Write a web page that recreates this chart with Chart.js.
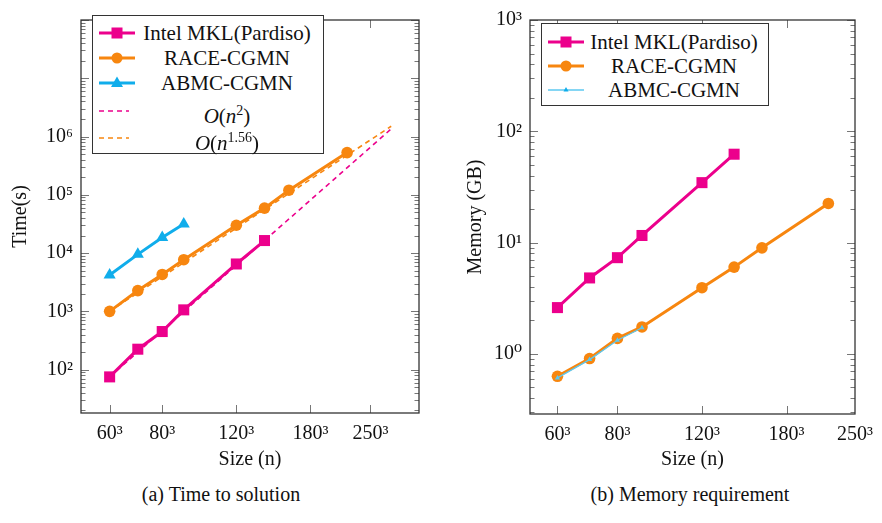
<!DOCTYPE html>
<html>
<head>
<meta charset="utf-8">
<script src="https://cdn.jsdelivr.net/npm/chart.js@4.4.1/dist/chart.umd.min.js"></script>
<style>
  body { margin: 0; background: #fff; font-family: "Liberation Serif", "DejaVu Serif", serif; color: #111; }
  #wrap { position: relative; width: 882px; height: 523px; }
  canvas { position: absolute; top: 0; }
  .legend { position: absolute; border: 1.3px solid #333; background: #fff; box-sizing: border-box; }
  .row { position: absolute; left: 0; right: 0; height: 24px; }
  .row svg { position: absolute; left: 6px; top: 4px; }
  .row span { position: absolute; left: 40px; right: 2px; text-align: center; font-family: "Liberation Serif", serif; font-size: 21px; line-height: 24px; white-space: nowrap; }
  .cap { position: absolute; top: 483px; font-family: "Liberation Serif", serif; font-size: 20px; text-align: center; width: 300px; }
</style>
</head>
<body>
<div id="wrap">
  <canvas id="timeChart" width="441" height="478" style="left:0"></canvas>
  <canvas id="memChart" width="441" height="478" style="left:441px"></canvas>

  <div class="legend" style="left:92px; top:15px; width:232px; height:139px">
    <div class="row" style="top:5px"><svg width="36" height="16"><line x1="0" y1="8" x2="36" y2="8" stroke="#EC008C" stroke-width="3"/><rect x="12.5" y="2.5" width="11" height="11" fill="#EC008C"/></svg><span>Intel MKL(Pardiso)</span></div>
    <div class="row" style="top:30px"><svg width="36" height="16"><line x1="0" y1="8" x2="36" y2="8" stroke="#F7860F" stroke-width="3"/><circle cx="18" cy="8" r="5.5" fill="#F7860F"/></svg><span>RACE-CGMN</span></div>
    <div class="row" style="top:55px"><svg width="36" height="16"><line x1="0" y1="8" x2="36" y2="8" stroke="#10ADEB" stroke-width="3"/><polygon points="18,1.5 24,12 12,12" fill="#10ADEB"/></svg><span>ABMC-CGMN</span></div>
    <div class="row" style="top:83px"><svg width="36" height="16"><line x1="0" y1="8" x2="30" y2="8" stroke="#EC008C" stroke-width="1.6" stroke-dasharray="5,4"/></svg><span><i>O</i>(<i>n</i><sup style="font-size:14px">2</sup>)</span></div>
    <div class="row" style="top:110px"><svg width="36" height="16"><line x1="0" y1="8" x2="30" y2="8" stroke="#F7860F" stroke-width="1.6" stroke-dasharray="5,4"/></svg><span><i>O</i>(<i>n</i><sup style="font-size:14px">1.56</sup>)</span></div>
  </div>

  <div class="legend" style="left:541px; top:23px; width:228px; height:83px">
    <div class="row" style="top:6px"><svg width="36" height="16"><line x1="0" y1="8" x2="36" y2="8" stroke="#EC008C" stroke-width="3"/><rect x="12.5" y="2.5" width="11" height="11" fill="#EC008C"/></svg><span>Intel MKL(Pardiso)</span></div>
    <div class="row" style="top:30px"><svg width="36" height="16"><line x1="0" y1="8" x2="36" y2="8" stroke="#F7860F" stroke-width="3"/><circle cx="18" cy="8" r="5.5" fill="#F7860F"/></svg><span>RACE-CGMN</span></div>
    <div class="row" style="top:54px"><svg width="36" height="16"><line x1="0" y1="8" x2="36" y2="8" stroke="#5CC8F0" stroke-width="1.5"/><polygon points="18,5 20.5,9.5 15.5,9.5" fill="#10ADEB"/></svg><span>ABMC-CGMN</span></div>
  </div>

  <div class="cap" style="left:71px">(a) Time to solution</div>
  <div class="cap" style="left:540px">(b) Memory requirement</div>
</div>

<script>
// sizes n (the x value is n^3)
var sizes = [60, 70, 80, 90, 120, 140, 160, 220];
var xTickSizes = [60, 80, 120, 180, 250];

// time to solution (s)
var mklTime = [75, 224, 450, 1060, 6500, 16400];
var raceTime = [1000, 2270, 4300, 7700, 30000, 59000, 120000, 530000];
var abmcTime = [4200, 9500, 18500, 31500];

// reference slopes, end points
var fitSizes = [60, 280];
var fitN2 = [75, 1350000];
var fitN156 = [1000, 1500000];

// memory (GB)
var mklMem = [2.61, 4.82, 7.33, 11.6, 34.6, 62.3];
var raceMem = [0.63, 0.91, 1.38, 1.75, 3.94, 6.03, 8.98, 22.5];
var abmcMem = [0.61, 0.89, 1.33, 1.72];

var magenta = "#EC008C";
var orange = "#F7860F";
var cyan = "#10ADEB";

var supDigits = {"0":"⁰","1":"¹","2":"²","3":"³","4":"⁴","5":"⁵","6":"⁶","7":"⁷","8":"⁸","9":"⁹"};
function sup(s) {
	return String(s).split("").map(function(c){ return supDigits[c] || c; }).join("");
}

function pts(xs, ys) {
	return ys.map(function(v, i){ return {x: Math.pow(xs[i], 3), y: v}; });
}

var tickFont = {family: "'Liberation Serif', 'DejaVu Serif', serif", size: 20};

// frame + inward tick marks on all four sides
var framePlugin = {
	id: "frame",
	afterDraw: function(chart) {
		var ctx = chart.ctx, a = chart.chartArea;
		var xs = chart.scales.x, ys = chart.scales.y;
		ctx.save();
		ctx.strokeStyle = "#777";
		ctx.lineWidth = 1;
		ctx.beginPath();
		xTickSizes.forEach(function(n){
			var px = Math.round(xs.getPixelForValue(Math.pow(n, 3))) + 0.5;
			if (px < a.left || px > a.right) return;
			ctx.moveTo(px, a.bottom); ctx.lineTo(px, a.bottom - 8);
			ctx.moveTo(px, a.top); ctx.lineTo(px, a.top + 8);
		});
		var lo = Math.floor(Math.log10(ys.min)), hi = Math.ceil(Math.log10(ys.max));
		for (var k = lo; k <= hi; k++) {
			for (var m = 1; m <= 9; m++) {
				var v = m * Math.pow(10, k);
				if (v < ys.min || v > ys.max) continue;
				var py = Math.round(ys.getPixelForValue(v)) + 0.5;
				var len = m === 1 ? 8 : 4.5;
				ctx.moveTo(a.left, py); ctx.lineTo(a.left + len, py);
				ctx.moveTo(a.right, py); ctx.lineTo(a.right - len, py);
			}
		}
		ctx.stroke();
		ctx.strokeStyle = "#333";
		ctx.lineWidth = 1.3;
		ctx.strokeRect(a.left, a.top, a.right - a.left, a.bottom - a.top);
		ctx.restore();
	}
};

function makeOptions(cfg) {
	return {
		responsive: false,
		animation: false,
		layout: {padding: cfg.padding},
		plugins: {legend: {display: false}, tooltip: {enabled: false}},
		scales: {
			x: {
				type: "logarithmic",
				bounds: "data",
				min: Math.pow(cfg.xMin, 3),
				max: Math.pow(cfg.xMax, 3),
				grid: {display: false, drawTicks: false},
				border: {display: false},
				afterBuildTicks: function(scale){
					scale.ticks = xTickSizes.map(function(n){ return {value: Math.pow(n, 3)}; });
				},
				afterFit: function(scale){ scale.height = cfg.xHeight; },
				ticks: {
					autoSkip: false, maxRotation: 0, padding: 9,
					color: "#111", font: tickFont,
					callback: function(v){ return Math.round(Math.cbrt(v)) + "³"; }
				},
				title: {display: true, text: "Size (n)", color: "#111", font: tickFont, padding: {top: 2, bottom: 6}}
			},
			y: {
				type: "logarithmic",
				bounds: "data",
				min: cfg.yMin,
				max: cfg.yMax,
				grid: {display: false, drawTicks: false},
				border: {display: false},
				afterBuildTicks: function(scale){
					scale.ticks = cfg.yExp.map(function(e){ return {value: Math.pow(10, e)}; });
				},
				afterFit: function(scale){ scale.width = cfg.yWidth; },
				ticks: {
					autoSkip: false, padding: 8,
					color: "#111", font: tickFont,
					callback: function(v){ return "10" + sup(Math.round(Math.log10(v))); }
				},
				title: {display: true, text: cfg.yTitle, color: "#111", font: tickFont, padding: cfg.yTitlePad}
			}
		}
	};
}

function solid(data, color, style, radius, width, order) {
	return {
		data: data, borderColor: color, backgroundColor: color,
		borderWidth: width, pointStyle: style, pointRadius: radius,
		pointBorderWidth: 0, tension: 0, order: order, clip: false
	};
}

function dashed(data, color) {
	return {
		data: data, borderColor: color, borderWidth: 1.6, borderDash: [5, 4],
		pointRadius: 0, tension: 0, order: 5
	};
}

new Chart(document.getElementById("timeChart"), {
	type: "line",
	data: {
		datasets: [
			solid(pts(sizes, mklTime), magenta, "rect", 7.8, 3, 2),
			solid(pts(sizes, raceTime), orange, "circle", 5.8, 3, 1),
			solid(pts(sizes, abmcTime), cyan, "triangle", 7, 3, 0),
			dashed(pts(fitSizes, fitN2), magenta),
			dashed(pts(fitSizes, fitN156), orange)
		]
	},
	options: makeOptions({
		padding: {left: 0, top: 3, right: 22, bottom: 0},
		xMin: 51.3, xMax: 326, yMin: 18, yMax: 1e8,
		yExp: [2, 3, 4, 5, 6],
		xHeight: 65, yWidth: 81,
		yTitle: "Time(s)", yTitlePad: {top: 9, bottom: 0}
	}),
	plugins: [framePlugin]
});

new Chart(document.getElementById("memChart"), {
	type: "line",
	data: {
		datasets: [
			solid(pts(sizes, mklMem), magenta, "rect", 7.8, 3, 2),
			solid(pts(sizes, raceMem), orange, "circle", 5.8, 3, 1),
			solid(pts(sizes, abmcMem), "#5CC8F0", "triangle", 3, 1.3, 0)
		]
	},
	options: makeOptions({
		padding: {left: 0, top: 12, right: 19, bottom: 0},
		xMin: 52.6, xMax: 250, yMin: 0.289, yMax: 1000,
		yExp: [0, 1, 2, 3],
		xHeight: 64, yWidth: 89,
		yTitle: "Memory (GB)", yTitlePad: {top: 23, bottom: 0}
	}),
	plugins: [framePlugin]
});
</script>
</body>
</html>
